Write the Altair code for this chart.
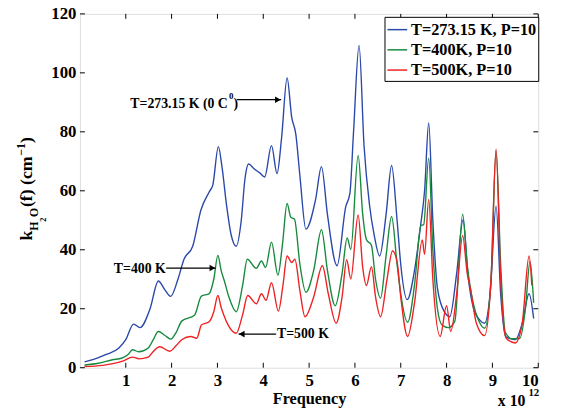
import altair as alt
import pandas as pd

# ---------------- data (frequency in units of 1e12 Hz, k in cm^-1) ----------------
freq_273 = [0.10, 0.30, 0.56, 0.85, 1.00, 1.17, 1.31, 1.53, 1.71, 1.85, 1.98, 2.14, 2.27, 2.46,
            2.64, 2.82, 2.90, 3.02, 3.10, 3.20, 3.30, 3.41, 3.52, 3.60, 3.68, 3.80, 3.93, 4.03,
            4.18, 4.30, 4.40, 4.52, 4.62, 4.71, 4.80, 4.93, 5.14, 5.27, 5.40, 5.61, 5.80, 5.89,
            5.97, 6.09, 6.20, 6.32, 6.42, 6.54, 6.68, 6.80, 6.92, 7.00, 7.14, 7.30, 7.43, 7.52,
            7.61, 7.70, 7.80, 7.95, 8.07, 8.22, 8.36, 8.47, 8.58, 8.72, 8.83, 8.95, 9.08, 9.18,
            9.29, 9.50, 9.65, 9.80, 9.90]
k_273 = [2.0, 2.8, 4.4, 6.7, 9.5, 14.8, 13.6, 20.0, 29.4, 26.5, 24.2, 30.1, 36.8, 41.2,
         53.5, 59.6, 62.0, 75.0, 68.0, 55.0, 45.0, 41.2, 50.0, 64.0, 69.1, 67.5, 66.0, 64.7,
         75.3, 65.8, 78.0, 98.3, 85.0, 79.2, 65.0, 47.0, 56.9, 68.2, 52.0, 34.6, 54.6, 59.1,
         80.0, 109.3, 75.0, 55.0, 45.0, 37.9, 52.0, 68.6, 50.0, 35.0, 23.1, 33.0, 47.9, 60.0,
         83.0, 50.0, 27.0, 19.0, 17.3, 32.0, 50.2, 31.0, 20.6, 16.2, 15.1, 25.0, 54.8, 25.0,
         10.6, 9.5, 15.0, 25.1, 16.7]

freq_400 = [0.10, 0.40, 0.71, 0.92, 1.05, 1.15, 1.28, 1.49, 1.60, 1.71, 1.85, 1.98, 2.10, 2.22,
            2.50, 2.65, 2.82, 2.92, 3.01, 3.08, 3.15, 3.25, 3.41, 3.55, 3.65, 3.85, 3.96, 4.05,
            4.18, 4.32, 4.42, 4.52, 4.60, 4.68, 4.80, 4.93, 5.10, 5.27, 5.40, 5.57, 5.72, 5.83,
            5.91, 6.07, 6.17, 6.25, 6.36, 6.45, 6.56, 6.68, 6.80, 6.92, 7.00, 7.15, 7.30, 7.44,
            7.50, 7.61, 7.70, 7.80, 7.90, 8.04, 8.18, 8.35, 8.45, 8.58, 8.70, 8.83, 8.97, 9.08,
            9.18, 9.28, 9.43, 9.60, 9.72, 9.82, 9.90]
k_400 = [0.9, 1.5, 2.7, 3.3, 4.5, 6.1, 5.4, 6.7, 9.5, 12.3, 11.0, 9.7, 12.0, 15.8,
         17.8, 24.3, 25.1, 30.0, 38.1, 33.0, 29.5, 24.0, 19.0, 28.0, 36.8, 33.7, 36.2, 34.0,
         42.6, 31.4, 42.0, 55.7, 51.0, 50.4, 35.0, 25.6, 33.0, 46.8, 33.0, 21.0, 32.0, 44.0,
         40.1, 72.0, 52.0, 43.5, 41.5, 30.0, 23.6, 38.0, 51.3, 35.0, 25.0, 15.4, 28.0, 48.2,
         48.5, 71.1, 40.0, 20.0, 14.5, 13.6, 15.8, 52.1, 35.0, 22.0, 16.0, 13.4, 30.0, 73.5,
         35.0, 12.0, 9.8, 10.0, 20.0, 36.0, 22.0]

freq_500 = [0.10, 0.50, 0.93, 1.15, 1.29, 1.49, 1.60, 1.74, 1.96, 2.10, 2.22, 2.42, 2.55, 2.65,
            2.82, 2.92, 3.01, 3.08, 3.14, 3.25, 3.41, 3.55, 3.66, 3.85, 3.96, 4.06, 4.18, 4.33,
            4.43, 4.52, 4.62, 4.69, 4.80, 4.91, 5.10, 5.29, 5.42, 5.59, 5.72, 5.82, 5.91, 6.07,
            6.17, 6.25, 6.36, 6.45, 6.56, 6.70, 6.82, 6.92, 7.00, 7.15, 7.30, 7.47, 7.52, 7.61,
            7.70, 7.86, 8.00, 8.09, 8.22, 8.35, 8.45, 8.52, 8.65, 8.83, 8.97, 9.08, 9.18, 9.30,
            9.50, 9.65, 9.80, 9.86]
k_500 = [0.4, 0.8, 2.2, 3.6, 3.0, 3.6, 5.5, 7.1, 5.6, 7.5, 9.5, 10.6, 10.0, 14.5,
         15.6, 19.0, 24.5, 20.5, 17.8, 14.0, 11.7, 18.0, 24.5, 21.7, 25.1, 22.9, 28.8, 19.2,
         28.0, 37.9, 35.7, 36.8, 26.0, 17.3, 24.0, 34.6, 25.0, 15.1, 24.0, 36.6, 30.1, 51.8,
         34.0, 27.9, 34.3, 24.0, 17.3, 30.0, 39.6, 36.0, 24.0, 10.6, 22.0, 43.3, 38.5, 57.1,
         30.0, 10.6, 21.0, 12.3, 25.0, 44.8, 32.0, 26.8, 15.1, 10.9, 30.0, 74.1, 30.0, 10.0,
         8.4, 15.0, 37.9, 27.9]

series_names = ["T=273.15 K, P=10", "T=400K, P=10", "T=500K, P=10"]
series_colors = ["#2a48aa", "#178a3e", "#ee2222"]
x_tick_values = [1, 2, 3, 4, 5, 6, 7, 8, 9, 10]
y_tick_values = [0, 20, 40, 60, 80, 100, 120]

# ---------------- build tables ----------------
curves = [(series_names[0], freq_273, k_273),
          (series_names[1], freq_400, k_400),
          (series_names[2], freq_500, k_500)]
tables = [pd.DataFrame({"freq": f, "k": k, "series": name}) for name, f, k in curves]

W, H = 465, 359
FONT = "Liberation Serif"
xs = alt.Scale(domain=[0, 10], nice=False, zero=False)
ys = alt.Scale(domain=[0, 120], nice=False)

x_axis = alt.Axis(values=x_tick_values, ticks=False, tickSize=0, grid=False, domain=False,
                  title="Frequency", labelFont=FONT, labelFontWeight="bold", labelFontSize=17,
                  labelColor="black", labelPadding=18, labelBaseline="alphabetic",
                  titleFont=FONT, titleFontWeight="bold", titleFontSize=16.5, titleColor="black",
                  titleBaseline="alphabetic", titleY=36)
y_axis = alt.Axis(values=y_tick_values, ticks=False, tickSize=0, grid=False, domain=False,
                  title=None, labelFont=FONT, labelFontWeight="bold", labelFontSize=17,
                  labelColor="black", labelPadding=4)

color = alt.Color("series:N",
                  scale=alt.Scale(domain=series_names, range=series_colors),
                  legend=alt.Legend(orient="none", legendX=309, legendY=3, title=None,
                                    labelFont=FONT, labelFontWeight="bold", labelFontSize=16.5,
                                    labelColor="black", labelLimit=0, symbolType="stroke",
                                    symbolSize=400, symbolStrokeWidth=1.5, strokeColor="black",
                                    fillColor="white", padding=2, rowPadding=0.5, labelOffset=3))

layers = []
for t in tables:
    layers.append(alt.Chart(t).mark_line(strokeWidth=1.4, interpolate="monotone", clip=True).encode(
        x=alt.X("freq:Q", scale=xs, axis=x_axis),
        y=alt.Y("k:Q", scale=ys, axis=y_axis),
        color=color))

# inward tick marks on all four sides
xt = pd.DataFrame({"freq": x_tick_values})
yt = pd.DataFrame({"k": y_tick_values})
tick_len = 5
layers.append(alt.Chart(xt).mark_rule(color="black", strokeWidth=1).encode(
    x=alt.X("freq:Q", scale=xs, axis=x_axis), y=alt.value(H), y2=alt.value(H - tick_len)))
layers.append(alt.Chart(xt).mark_rule(color="black", strokeWidth=1).encode(
    x=alt.X("freq:Q", scale=xs, axis=x_axis), y=alt.value(0), y2=alt.value(tick_len)))
layers.append(alt.Chart(yt).mark_rule(color="black", strokeWidth=1).encode(
    y=alt.Y("k:Q", scale=ys, axis=y_axis), x=alt.value(0), x2=alt.value(tick_len)))
layers.append(alt.Chart(yt).mark_rule(color="black", strokeWidth=1).encode(
    y=alt.Y("k:Q", scale=ys, axis=y_axis), x=alt.value(W), x2=alt.value(W - tick_len)))

one = pd.DataFrame({"a": [0]})


def txt(s, x, y, size, align="left", angle=0, baseline="alphabetic"):
    return alt.Chart(one).mark_text(text=s, font=FONT, fontWeight="bold", fontSize=size,
                                    color="black", align=align, baseline=baseline,
                                    angle=angle).encode(x=x, y=y)


def arrow(x1, x2, y, direction):
    r = alt.Chart(one).mark_rule(color="black", strokeWidth=1.2).encode(
        x=alt.datum(x1), x2=alt.datum(x2), y=alt.datum(y))
    hx = x2 - 0.07 if direction == "right" else x1 + 0.07
    h = alt.Chart(one).mark_point(shape="triangle-" + direction, filled=True, size=45,
                                  color="black", opacity=1).encode(
        x=alt.datum(hx), y=alt.datum(y))
    return [r, h]


# annotations (data coordinates)
layers.append(txt("T=273.15 K (0 C", alt.datum(1.10), alt.datum(88.1), 14))
layers.append(txt("0", alt.datum(3.25), alt.datum(91.0), 9))
layers.append(txt(")", alt.datum(3.35), alt.datum(88.1), 14))
layers += arrow(3.42, 4.39, 90.9, "right")

layers.append(txt("T=400 K", alt.datum(0.74), alt.datum(32.1), 14))
layers += arrow(1.88, 2.96, 33.8, "right")

layers.append(txt("T=500 K", alt.datum(4.30), alt.datum(10.0), 14))
layers += arrow(3.46, 4.28, 11.4, "left")

# x-axis exponent
layers.append(txt("x 10", alt.value(424), alt.value(398), 16))
layers.append(txt("12", alt.value(455), alt.value(388), 11))

# y-axis title pieces (rotated)
layers.append(txt("k", alt.value(-49), alt.value(230), 18, angle=270))
layers.append(txt("H", alt.value(-43), alt.value(220), 12, angle=270))
layers.append(txt("2", alt.value(-34), alt.value(211), 8.5, angle=270))
layers.append(txt("O", alt.value(-43), alt.value(206), 12, angle=270))
layers.append(txt("(f) (cm", alt.value(-49), alt.value(196), 18, angle=270))
layers.append(txt("\u22121", alt.value(-56), alt.value(144), 12, angle=270))
layers.append(txt(")", alt.value(-49), alt.value(131), 18, angle=270))

chart = alt.layer(*layers).properties(
    width=W, height=H,
    autosize=alt.AutoSizeParams(type="none"),
    padding={"left": 73, "top": 3, "right": 17, "bottom": 44},
).configure_view(stroke="black", strokeWidth=1).configure_axis(
    labelFont=FONT, titleFont=FONT
).configure_legend(labelFont=FONT).configure(background="white")

chart.save("out.html", embed_options={"renderer": "svg", "actions": False})
